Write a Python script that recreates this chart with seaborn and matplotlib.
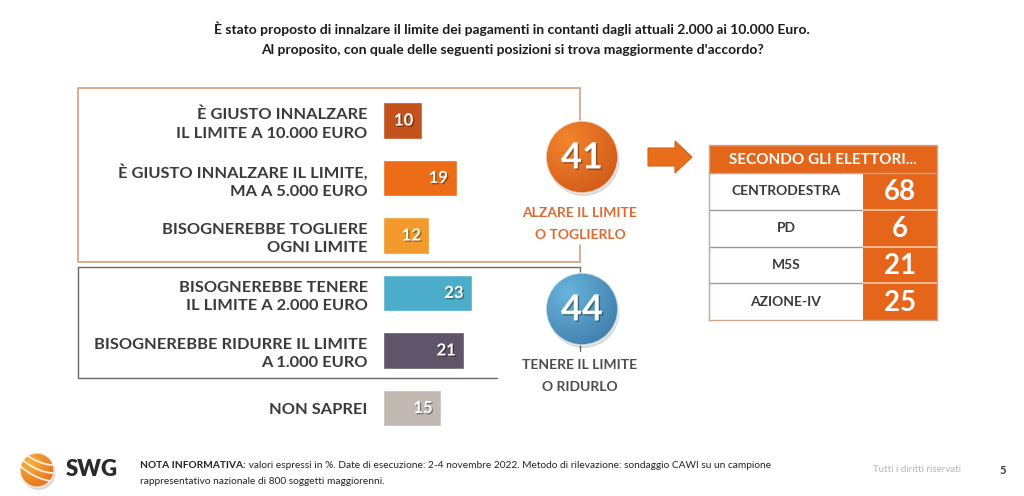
import numpy as np
import pandas as pd
import matplotlib
matplotlib.use("Agg")
import matplotlib.pyplot as plt
import matplotlib.patches as mpatches
import matplotlib.colors as mcolors
import matplotlib.patheffects as pe
import seaborn as sns

# --- dati ---
answers = [
    "È GIUSTO INNALZARE\nIL LIMITE A 10.000 EURO",
    "È GIUSTO INNALZARE IL LIMITE,\nMA A 5.000 EURO",
    "BISOGNEREBBE TOGLIERE\nOGNI LIMITE",
    "BISOGNEREBBE TENERE\nIL LIMITE A 2.000 EURO",
    "BISOGNEREBBE RIDURRE IL LIMITE\nA 1.000 EURO",
    "NON SAPREI",
]
shares = [10, 19, 12, 23, 21, 15]
bar_colors = ["#c4521c", "#ec6c17", "#f29a2c", "#4cadcb", "#5f5469", "#c2b9b3"]

group_labels = ["ALZARE IL LIMITE\nO TOGLIERLO", "TENERE IL LIMITE\nO RIDURLO"]
group_members = [[0, 1, 2], [3, 4]]

voters = ["CENTRODESTRA", "PD", "M5S", "AZIONE-IV"]
voters_share = [68, 6, 21, 25]

title = ("È stato proposto di innalzare il limite dei pagamenti in contanti dagli attuali 2.000 ai 10.000 Euro.\n"
         "Al proposito, con quale delle seguenti posizioni si trova maggiormente d'accordo?")
note_bold = "NOTA INFORMATIVA:"
note_line1 = (" valori espressi in %. Date di esecuzione: 2-4 novembre 2022. Metodo di rilevazione: "
              "sondaggio CAWI su un campione")
note_line2 = "rappresentativo nazionale di 800 soggetti maggiorenni."

# --- stile ---
sns.set_style("white")
plt.rcParams["font.family"] = ["Lato", "DejaVu Sans"]
TXT = "#3a3a3a"
W, H = 1024, 496

fig = plt.figure(figsize=(W / 100, H / 100), dpi=100)
bg = fig.add_axes([0, 0, 1, 1])
bg.set_axis_off()


def pixel_limits():
    bg.set_xlim(0, W)
    bg.set_ylim(H, 0)
    bg.set_aspect("auto")


def gradient_disc(ax, cx, cy, r, light, dark, z=5):
    n = 200
    yy, xx = np.mgrid[-1:1:n * 1j, -1:1:n * 1j]
    t = np.clip(np.hypot(xx + 0.4, yy + 0.45) / 1.9, 0, 1)[..., None]
    img = np.array(mcolors.to_rgb(light)) * (1 - t) + np.array(mcolors.to_rgb(dark)) * t
    ax.add_patch(mpatches.Circle((cx + 1.5, cy + 3), r, color="black", alpha=0.15, zorder=z - 1, lw=0))
    im = ax.imshow(img, extent=(cx - r, cx + r, cy + r, cy - r), origin="upper",
                   zorder=z, interpolation="bilinear")
    clip = mpatches.Circle((cx, cy), r, transform=ax.transData, facecolor="none", edgecolor="none")
    ax.add_patch(clip)
    im.set_clip_path(clip)
    ax.add_patch(mpatches.Circle((cx, cy), r, facecolor="none", edgecolor="white",
                                 lw=1.2, alpha=0.6, zorder=z + 1))


shadow = [pe.withSimplePatchShadow(offset=(1, -1), shadow_rgbFace="black", alpha=0.35)]

# --- titolo ---
bg.text(W / 2, 39, title, ha="center", va="center", fontsize=10, fontweight="bold",
        color="#1a1a1a", linespacing=1.75)

# --- riquadri dei gruppi ---
oc, gc = "#cf9f80", "#6a6a6a"
bg.plot([580, 78, 78, 580], [88, 88, 262, 262], color=oc, lw=1.2, zorder=1)
bg.plot([580, 580], [88, 122], color=oc, lw=1.2, zorder=1)
bg.plot([580, 580], [245, 262], color=oc, lw=1.2, zorder=1)
bg.plot([580, 78, 78, 497], [267, 267, 378, 378], color=gc, lw=1.0, zorder=1)
bg.plot([580, 580], [267, 273], color=gc, lw=1.0, zorder=1)
bg.plot([580, 580], [345, 351], color=gc, lw=1.0, zorder=1)

# --- cerchi con i totali ---
totals = [sum(shares[i] for i in m) for m in group_members]
circ = [(582, 157, "#f3852e", "#cc5416", "#dc6a33"), (582, 309, "#68b4dc", "#3a78a4", "#4d4d4d")]
for (cx, cy, c1, c2, lc), tot, lab in zip(circ, totals, group_labels):
    gradient_disc(bg, cx, cy, 36, c1, c2)
    bg.text(cx, cy + 1, str(tot), ha="center", va="center", fontsize=26, fontweight="bold",
            color="white", zorder=8, path_effects=shadow)
    bg.text(cx - 2, cy + 67, lab, ha="center", va="center", fontsize=10, fontweight="bold",
            color=lc, linespacing=1.95, zorder=8)

# --- freccia ---
bg.add_patch(mpatches.Polygon([(648, 148), (675, 148), (675, 141), (692, 157), (675, 173),
                               (675, 166), (648, 166)], closed=True, facecolor="#e96e1c",
                              edgecolor="#d85f14", lw=0.8, zorder=3))

# --- barre ---
axb = fig.add_axes([383 / W, (H - 436.75) / H, 197 / W, 345 / H])
df = pd.DataFrame({"answer": answers, "share": shares})
sns.barplot(data=df, x="share", y="answer", hue="answer", palette=bar_colors, legend=False,
            width=0.63, saturation=1, orient="h", ax=axb)
axb.set_xlim(0, 197 / 3.87)
axb.set_ylim(5.5, -0.5)
axb.set_xlabel("")
axb.set_ylabel("")
axb.set_xticks([])
sns.despine(ax=axb, left=True, bottom=True)
axb.patch.set_alpha(0)
axb.tick_params(axis="y", length=0, pad=11, labelsize=11.8, labelcolor=TXT)
for lbl in axb.get_yticklabels():
    lbl.set_fontweight("bold")
    lbl.set_linespacing(1.39)
for patch, val in zip(axb.patches, shares):
    axb.text(patch.get_width() - 2.2, patch.get_y() + patch.get_height() / 2, str(val),
             ha="right", va="center", color="white", fontsize=12, fontweight="bold",
             path_effects=shadow)

# --- tabella elettori ---
tx0, tx1 = 709, 937
bg.add_patch(mpatches.Rectangle((tx0, 145), tx1 - tx0, 28, facecolor="#e3661b", edgecolor="none", zorder=2))
bg.text((tx0 + tx1) / 2, 159.5, "SECONDO GLI ELETTORI...", ha="center", va="center",
        fontsize=11, fontweight="bold", color="white", zorder=3)

axt = fig.add_axes([tx0 / W, (H - 320) / H, (tx1 - tx0) / W, 147 / H])
split = (863 - tx0) / (tx1 - tx0)
rows = np.arange(len(voters))
axt.barh(rows, [1 - split] * len(voters), left=split, height=1.0, color="#e5661a", edgecolor="none")
for i, (name, val) in enumerate(zip(voters, voters_share)):
    axt.text(split / 2, i, name, ha="center", va="center", fontsize=10, fontweight="bold", color=TXT)
    axt.text((1 + split) / 2, i + 0.03, str(val), ha="center", va="center", fontsize=20,
             fontweight="bold", color="white")
for b in rows[1:] - 0.5:
    axt.plot([0, split], [b, b], color="#9a9a9a", lw=1.0)
    axt.plot([split, 1], [b, b], color="#f6c9a8", lw=1.2)
axt.set_xlim(0, 1)
axt.set_ylim(len(voters) - 0.5, -0.5)
axt.set_xticks([])
axt.set_yticks([])
for s in axt.spines.values():
    s.set_color("#c9a58c")
    s.set_linewidth(1.0)
bg.plot([tx0, tx0, tx1, tx1], [173, 145, 145, 173], color="#c9a58c", lw=1.0, zorder=3)

# --- piè di pagina ---
lx, ly, lr = 37, 470, 17
gradient_disc(bg, lx, ly, lr, "#f7b23a", "#e2641a", z=5)
for off in (-9, -1, 7):
    xs = np.linspace(lx - lr, lx + lr, 40)
    ys = ly + off + 0.45 * (xs - lx) - 0.012 * (xs - lx) ** 2
    ln, = bg.plot(xs, ys, color="white", lw=1.3, alpha=0.85, zorder=7)
    ln.set_clip_path(mpatches.Circle((lx, ly), lr, transform=bg.transData))
bg.text(66, 470, "SWG", ha="left", va="center", fontsize=16, fontweight="heavy", color="#2b2b2b")

pixel_limits()
t_bold = bg.text(140, 466, note_bold, ha="left", va="center", fontsize=7.3, fontweight="bold", color="#222222")
fig.canvas.draw()
bb = t_bold.get_window_extent().transformed(bg.transData.inverted())
bg.text(bb.x1, 466, note_line1, ha="left", va="center", fontsize=7.3, color="#222222")
bg.text(140, 481, note_line2, ha="left", va="center", fontsize=7.3, color="#222222")
bg.text(917, 470, "Tutti i diritti riservati", ha="center", va="center", fontsize=7, color="#b5b5b5")
bg.text(1003, 470, "5", ha="center", va="center", fontsize=8, fontweight="bold", color="#333333")

pixel_limits()
fig.savefig("out.png", dpi=100, facecolor="white")
